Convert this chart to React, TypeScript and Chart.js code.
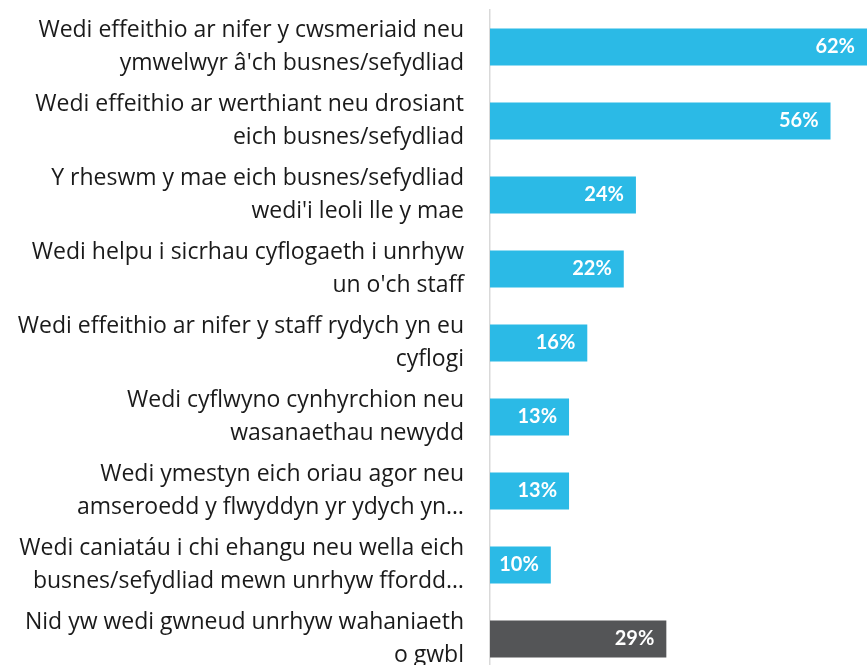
import React, { useEffect, useRef } from "react";
import { Chart, registerables } from "chart.js";

Chart.register(...registerables);

const categories: string[][] = [
  ["Wedi effeithio ar nifer y cwsmeriaid neu", "ymwelwyr â'ch busnes/sefydliad"],
  ["Wedi effeithio ar werthiant neu drosiant", "eich busnes/sefydliad"],
  ["Y rheswm y mae eich busnes/sefydliad", "wedi'i leoli lle y mae"],
  ["Wedi helpu i sicrhau cyflogaeth i unrhyw", "un o'ch staff"],
  ["Wedi effeithio ar nifer y staff rydych yn eu", "cyflogi"],
  ["Wedi cyflwyno cynhyrchion neu", "wasanaethau newydd"],
  ["Wedi ymestyn eich oriau agor neu", "amseroedd y flwyddyn yr ydych yn…"],
  ["Wedi caniatáu i chi ehangu neu wella eich", "busnes/sefydliad mewn unrhyw ffordd…"],
  ["Nid yw wedi gwneud unrhyw wahaniaeth", "o gwbl"],
];

const values: number[] = [62, 56, 24, 22, 16, 13, 13, 10, 29];
const barColors: string[] = [
  "#2BBAE6", "#2BBAE6", "#2BBAE6", "#2BBAE6", "#2BBAE6",
  "#2BBAE6", "#2BBAE6", "#2BBAE6", "#545557",
];

const valueLabelPlugin = {
  id: "valueLabels",
  afterDatasetsDraw(chart: any) {
    const ctx = chart.ctx;
    const meta = chart.getDatasetMeta(0);
    ctx.save();
    ctx.fillStyle = "#ffffff";
    ctx.font = "bold 20px Lato";
    ctx.textAlign = "right";
    ctx.textBaseline = "middle";
    meta.data.forEach((el: any, i: number) => {
      ctx.fillText(values[i] + "%", el.x - 12, el.y);
    });
    ctx.restore();
  },
};

export default function App() {
  const ref = useRef<HTMLCanvasElement>(null);
  useEffect(() => {
    document.body.style.margin = "0";
    const chart = new Chart(ref.current!, {
      type: "bar",
      data: {
        labels: categories,
        datasets: [
          {
            data: values,
            backgroundColor: barColors,
            barPercentage: 0.5,
            categoryPercentage: 1,
          },
        ],
      },
      options: {
        indexAxis: "y",
        responsive: false,
        animation: false,
        devicePixelRatio: 1,
        layout: { padding: { top: 10, right: 0, bottom: 0, left: 0 } },
        plugins: { legend: { display: false }, tooltip: { enabled: false } },
        scales: {
          x: {
            display: false,
            min: 0,
            max: 62,
          },
          y: {
            afterFit: (scale: any) => {
              scale.width = 490;
              scale.paddingTop = 0;
              scale.paddingBottom = 0;
            },
            grid: { display: false, drawTicks: false },
            border: { display: true, color: "#d9d9d9", width: 1.5 },
            ticks: {
              padding: 26,
              color: "#1a1a1a",
              font: { family: "Open Sans", size: 23, lineHeight: 1.4 },
            },
          },
        },
      },
      plugins: [valueLabelPlugin],
    });
    return () => chart.destroy();
  }, []);
  return <canvas ref={ref} width={867} height={676} style={{ display: "block" }} />;
}
